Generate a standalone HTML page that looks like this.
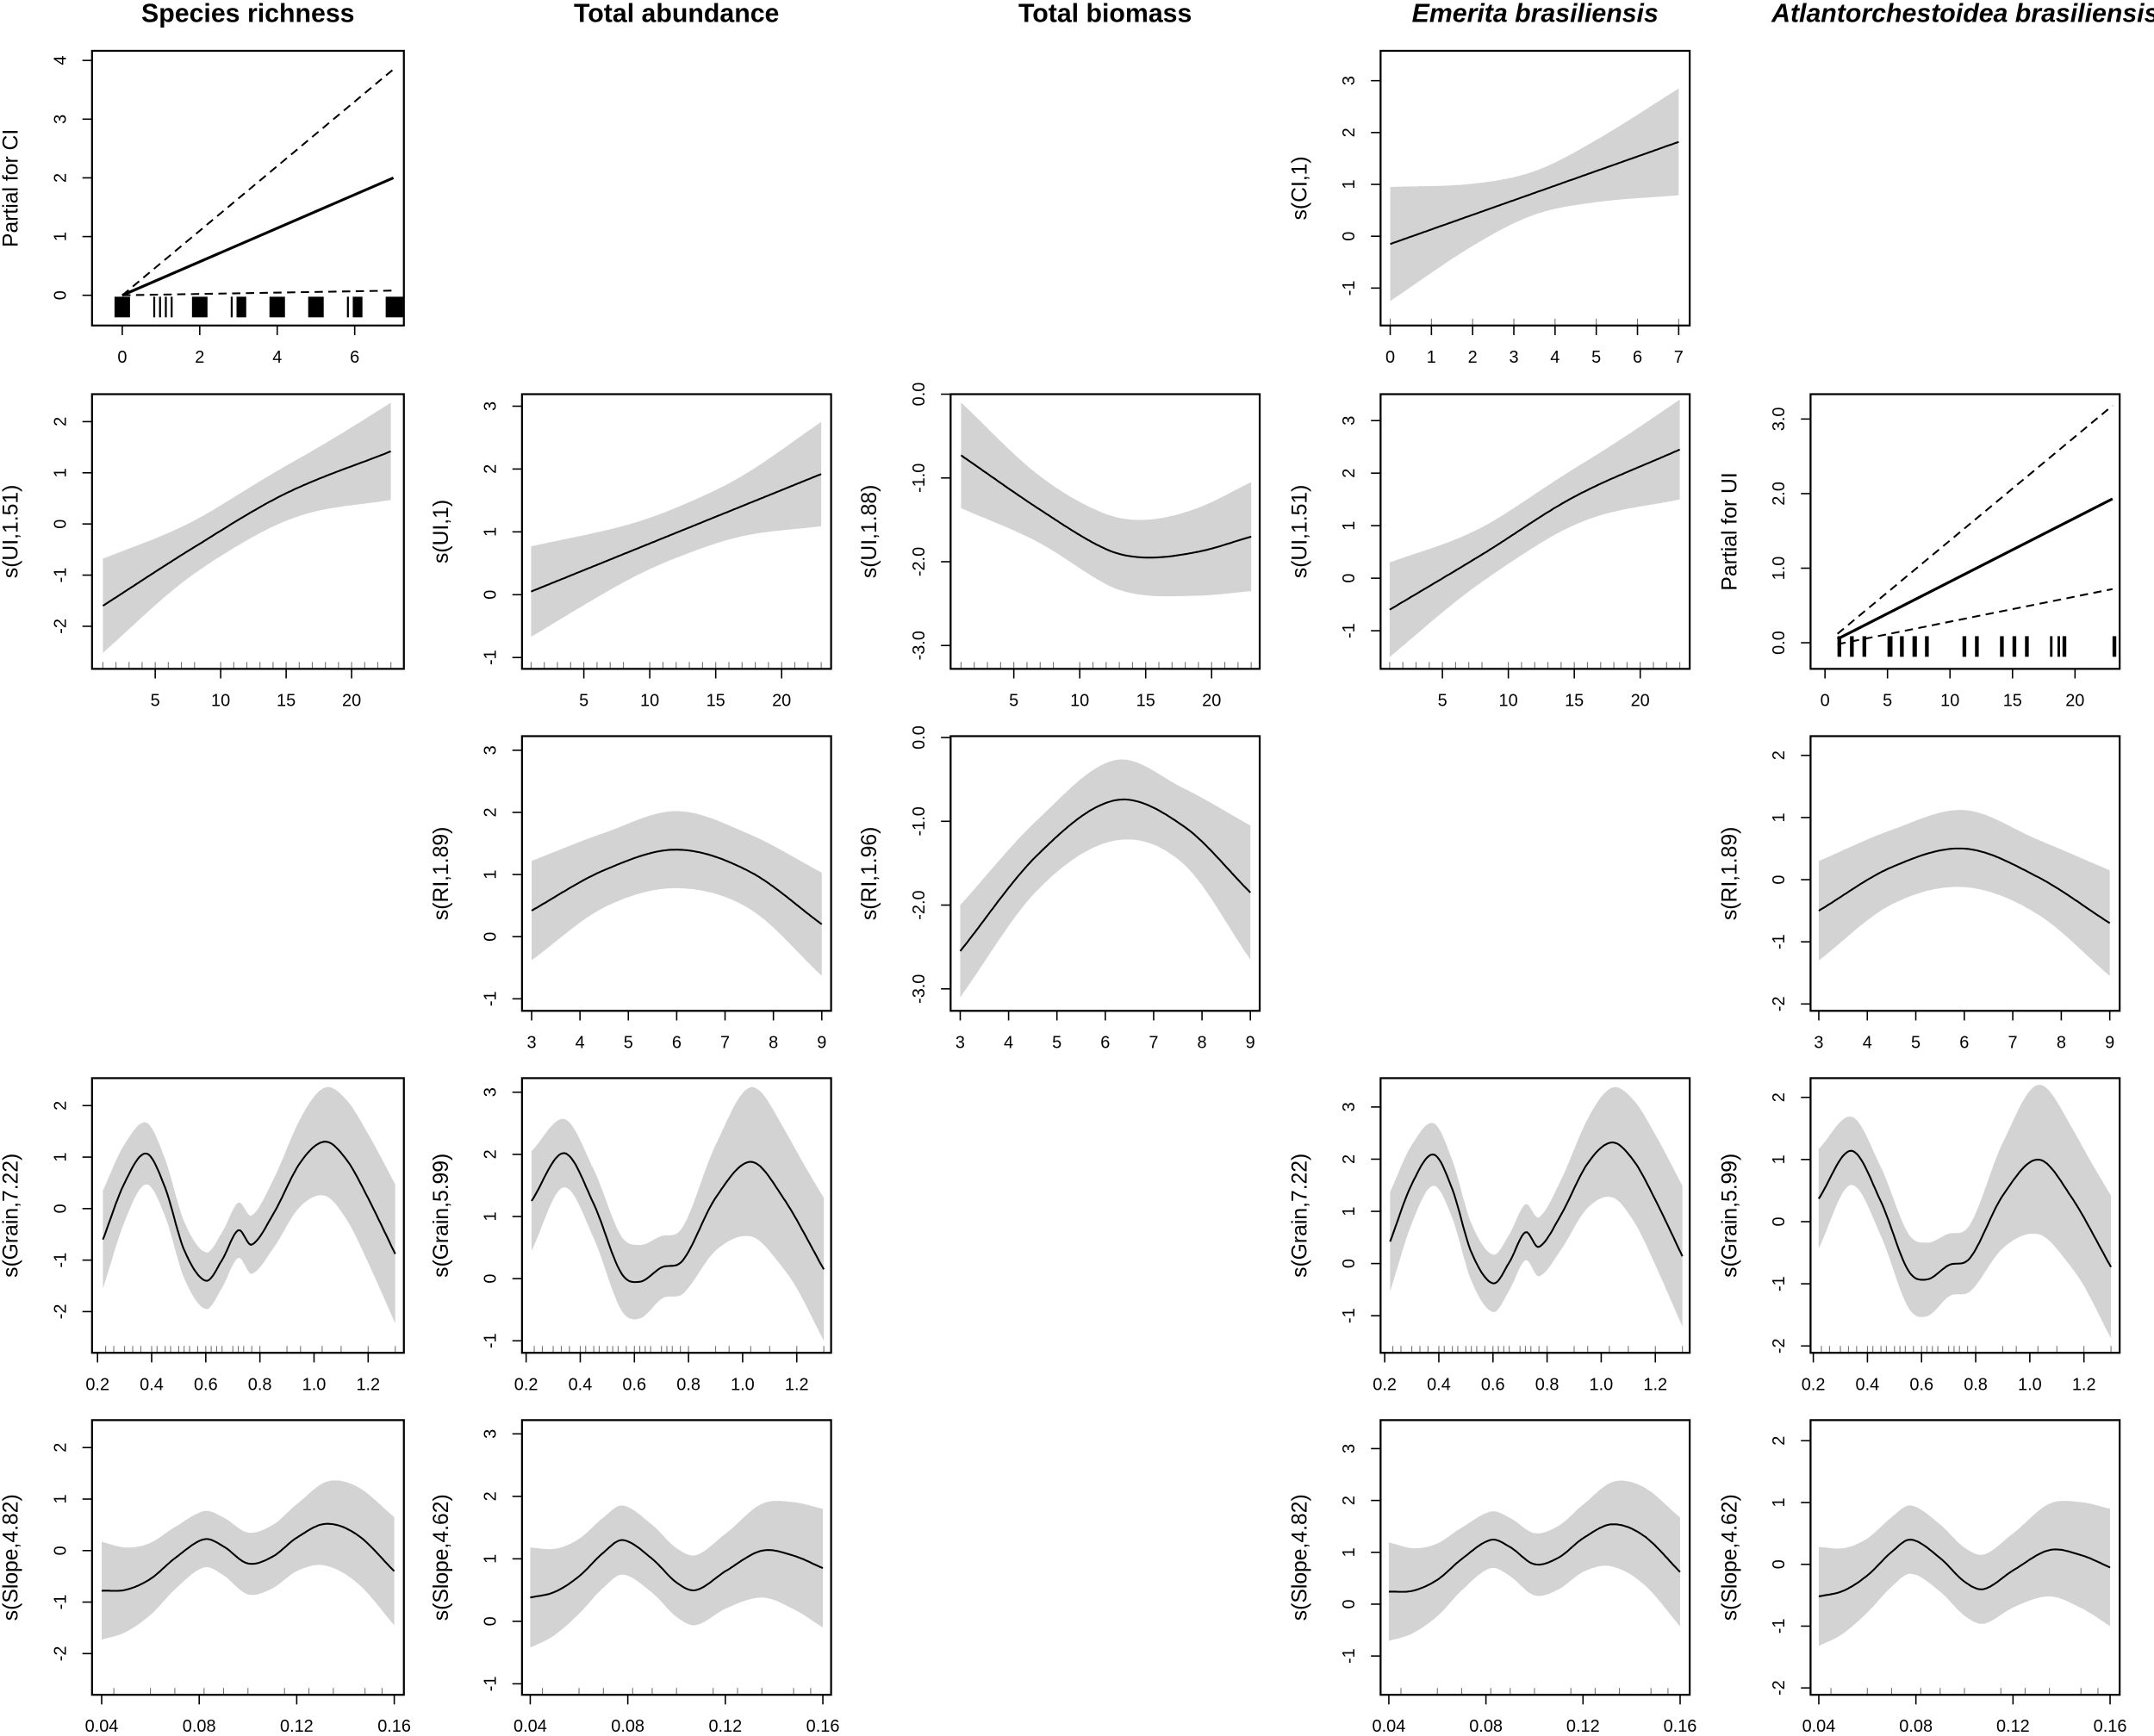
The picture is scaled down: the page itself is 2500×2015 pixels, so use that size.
<!DOCTYPE html>
<html><head><meta charset="utf-8"><style>
html,body{margin:0;padding:0;background:#fff;}
svg{display:block;}
text{font-family:"Liberation Sans",Arial,sans-serif;fill:#000;}
</style></head><body>
<svg id="s" xmlns="http://www.w3.org/2000/svg" width="2500" height="2015" viewBox="0 0 1568 1264" preserveAspectRatio="none"></svg>
<script>
const S=document.getElementById('s');let out='';
const cols=[[67,294],[380,605],[692,917],[1005,1230],[1318,1543]];
const rows=[[37,237],[287,487],[536,736],[785,985],[1034,1234]];
const titles=[["Species richness",0],["Total abundance",0],["Total biomass",0],["Emerita brasiliensis",1],["Atlantorchestoidea brasiliensis",1]];
titles.forEach((t,i)=>{const cx=(cols[i][0]+cols[i][1])/2;out+=`<text x="${cx}" y="16" font-size="19" font-weight="bold" ${t[1]?'font-style="italic"':''} text-anchor="middle">${t[0]}</text>`;});
function interp(pts,x){
  const n=pts.length;if(x<=pts[0][0])return pts[0][1];if(x>=pts[n-1][0])return pts[n-1][1];
  let i=0;while(pts[i+1][0]<x)i++;
  const tg=k=>{if(k==0)return (pts[1][1]-pts[0][1])/(pts[1][0]-pts[0][0]);if(k==n-1)return (pts[n-1][1]-pts[n-2][1])/(pts[n-1][0]-pts[n-2][0]);return (pts[k+1][1]-pts[k-1][1])/(pts[k+1][0]-pts[k-1][0]);};
  const x0=pts[i][0],x1=pts[i+1][0],h=x1-x0,t=(x-x0)/h;
  const h00=2*t*t*t-3*t*t+1,h10=t*t*t-2*t*t+t,h01=-2*t*t*t+3*t*t,h11=t*t*t-t*t;
  return h00*pts[i][1]+h10*h*tg(i)+h01*pts[i+1][1]+h11*h*tg(i+1);}
function panel(p){
  const [L,R]=cols[p.c],[T,B]=rows[p.r];
  const X=v=>p.xa[0]+(v-p.xa[1])*p.xa[2];
  const Y=v=>p.ya[0]-(v-p.ya[1])*p.ya[2];
  if(p.curve){
    const N=160;let up=[],lo=[],ln=[];
    for(let k=0;k<=N;k++){const x=p.xr[0]+(p.xr[1]-p.xr[0])*k/N;const y=interp(p.curve,x),h=interp(p.hw,x);
      up.push(X(x).toFixed(1)+','+Y(y+h).toFixed(1));lo.push(X(x).toFixed(1)+','+Y(y-h).toFixed(1));ln.push(X(x).toFixed(1)+','+Y(y).toFixed(1));}
    out+=`<polygon points="${up.join(' ')} ${lo.reverse().join(' ')}" fill="#d3d3d3"/>`;
    out+=`<polyline points="${ln.join(' ')}" fill="none" stroke="#000" stroke-width="1.3"/>`;
    if(p.rug){p.rug.forEach(v=>{out+=`<line x1="${X(v)}" x2="${X(v)}" y1="${B}" y2="${B-5}" stroke="#777" stroke-width="0.7"/>`;});}
  }
  if(p.lin){
    const [x0,x1]=p.xr;
    p.lin.forEach((l,j)=>{out+=`<line x1="${X(x0)}" y1="${Y(l[0])}" x2="${X(x1)}" y2="${Y(l[1])}" stroke="#000" stroke-width="${j==0?2:1.3}" ${j?'stroke-dasharray="6,4"':''}/>`;});
    p.rugb.forEach(v=>{out+=`<rect x="${X(v[0])}" y="${Y(p.rugy)-7.5}" width="${Math.max(1.2,(v[1]-v[0])*p.xa[2])}" height="15" fill="#000"/>`;});
  }
  out+=`<rect x="${L}" y="${T}" width="${R-L}" height="${B-T}" fill="none" stroke="#000" stroke-width="1.4"/>`;
  p.yt.forEach(v=>{const y=Y(v);out+=`<line x1="${L}" x2="${L-7}" y1="${y}" y2="${y}" stroke="#000" stroke-width="1"/>`;
    const lab=p.yf?v.toFixed(1):String(v);out+=`<text transform="translate(${L-19},${y}) rotate(-90)" font-size="12.5" text-anchor="middle">${lab}</text>`;});
  out+=`<line x1="${L}" x2="${L}" y1="${Y(p.yt[0])}" y2="${Y(p.yt[p.yt.length-1])}" stroke="#000"/>`;
  p.xt.forEach(v=>{const x=X(v);out+=`<line x1="${x}" x2="${x}" y1="${B}" y2="${B+7}" stroke="#000" stroke-width="1"/>`;
    out+=`<text x="${x}" y="${B+27}" font-size="12.5" text-anchor="middle">${p.xl?p.xl(v):v}</text>`;});
  out+=`<line x1="${X(p.xt[0])}" x2="${X(p.xt[p.xt.length-1])}" y1="${B}" y2="${B}" stroke="#000"/>`;
  out+=`<text transform="translate(${L-54},${(T+B)/2}) rotate(-90)" font-size="15.5" text-anchor="middle">${p.yl}</text>`;
}
const uiR=[1,2,3,4,5,6,7,8,10,11,12,13,14,15,16,17,18,19,20,21,22,23];
const grR=[0.23,0.26,0.3,0.33,0.36,0.4,0.42,0.45,0.47,0.5,0.52,0.54,0.57,0.6,0.62,0.64,0.66,0.7,0.72,0.74,0.77,0.8,0.9,0.95,1.03,1.1,1.2,1.3];
const slR=[0.045,0.06,0.07,0.082,0.09,0.1,0.115,0.125,0.135,0.148,0.155];
const grT=[0.2,0.4,0.6,0.8,1.0,1.2],slT=[0.04,0.08,0.12,0.16];
const fx2=v=>v.toFixed(2),fx1=v=>v.toFixed(1);
panel({c:0,r:0,xa:[89,0,28.2],ya:[215,0,42.75],xr:[0,7],yt:[0,1,2,3,4],xt:[0,2,4,6],yl:"Partial for CI",
 lin:[[0,2],[0,3.85],[0,0.08]],rugy:-0.2,
 rugb:[[-0.2,0.2],[0.8,0.85],[0.95,1.0],[1.1,1.15],[1.25,1.3],[1.8,2.2],[2.8,2.85],[2.95,3.2],[3.8,4.2],[4.8,5.2],[5.8,5.85],[5.95,6.2],[6.8,7.25]]});
panel({c:3,r:0,xa:[1012,0,30],ya:[172,0,37.75],xr:[0,7],yt:[-1,0,1,2,3],xt:[0,1,2,3,4,5,6,7],yl:"s(CI,1)",
 curve:[[0,-0.15],[7,1.82]],hw:[[0,1.1],[2,0.6],[3.5,0.42],[5,0.6],[7,1.03]],rug:[0,1,2,3,4,5,6,7]});
panel({c:0,r:1,xa:[113,5,9.53],ya:[381.5,0,37.25],xr:[1,23],yt:[-2,-1,0,1,2],xt:[5,10,15,20],yl:"s(UI,1.51)",
 curve:[[1,-1.6],[8,-0.45],[15,0.6],[23,1.42]],hw:[[1,0.92],[7,0.55],[12,0.5],[17,0.6],[23,0.95]],rug:uiR});
panel({c:1,r:1,xa:[425,5,9.6],ya:[433,0,45.75],xr:[1,23],yt:[-1,0,1,2,3],xt:[5,10,15,20],yl:"s(UI,1)",
 curve:[[1,0.05],[23,1.92]],hw:[[1,0.72],[8,0.45],[12,0.4],[17,0.48],[23,0.83]],rug:uiR});
panel({c:2,r:1,xa:[738,5,9.6],ya:[287,0,61],xr:[1,23],yt:[-3,-2,-1,0],yf:1,xt:[5,10,15,20],yl:"s(UI,1.88)",
 curve:[[1,-0.73],[7,-1.38],[12,-1.85],[15,-1.95],[19,-1.88],[23,-1.7]],hw:[[1,0.63],[7,0.4],[13,0.43],[18,0.5],[23,0.65]],rug:uiR});
panel({c:3,r:1,xa:[1050,5,9.6],ya:[421,0,38.25],xr:[1,23],yt:[-1,0,1,2,3],xt:[5,10,15,20],yl:"s(UI,1.51)",
 curve:[[1,-0.6],[8,0.45],[15,1.55],[23,2.45]],hw:[[1,0.9],[7,0.55],[12,0.5],[17,0.6],[23,0.95]],rug:uiR});
panel({c:4,r:1,xa:[1374,5,9.1],ya:[468,0,54.3],xr:[1,23],yt:[0,1,2,3],yf:1,xt:[0,5,10,15,20],yl:"Partial for UI",
 lin:[[0.05,1.93],[0.12,3.18],[-0.02,0.72]],rugy:-0.05,
 rugb:[[1,1.3],[2,2.3],[3,3.3],[5,5.4],[6,6.3],[7,7.35],[8,8.3],[11,11.3],[12,12.3],[14,14.3],[15,15.3],[16,16.3],[18,18.2],[18.6,18.8],[19,19.3],[23,23.3]]});
panel({c:1,r:2,xa:[387,3,35.2],ya:[682,0,45.25],xr:[3,9],yt:[-1,0,1,2,3],xt:[3,4,5,6,7,8,9],yl:"s(RI,1.89)",
 curve:[[3,0.42],[4.5,1.07],[6,1.4],[7.5,1.05],[9,0.2]],hw:[[3,0.8],[4.5,0.6],[6,0.62],[7.5,0.6],[9,0.83]]});
panel({c:2,r:2,xa:[699,3,35.2],ya:[537,0,61],xr:[3,9],yt:[-3,-2,-1,0],yf:1,xt:[3,4,5,6,7,8,9],yl:"s(RI,1.96)",
 curve:[[3,-2.55],[4.6,-1.4],[6.2,-0.75],[7.6,-1.05],[9,-1.85]],hw:[[3,0.55],[4.6,0.42],[6.2,0.48],[7.6,0.45],[9,0.8]]});
panel({c:4,r:2,xa:[1324,3,35.3],ya:[640.5,0,45.25],xr:[3,9],yt:[-2,-1,0,1,2],xt:[3,4,5,6,7,8,9],yl:"s(RI,1.89)",
 curve:[[3,-0.5],[4.5,0.2],[6,0.5],[7.5,0.05],[9,-0.7]],hw:[[3,0.8],[4.5,0.6],[6,0.62],[7.5,0.6],[9,0.85]]});
const g1=[[0.22,-0.6],[0.3,0.5],[0.38,1.07],[0.45,0.4],[0.52,-0.8],[0.6,-1.4],[0.66,-1.0],[0.72,-0.42],[0.77,-0.7],[0.85,-0.1],[0.95,0.9],[1.04,1.3],[1.12,0.95],[1.2,0.2],[1.3,-0.88]];
const gh1=[[0.22,0.95],[0.38,0.6],[0.6,0.55],[0.75,0.55],[0.9,0.75],[1.04,1.05],[1.2,1.25],[1.3,1.35]];
panel({c:0,r:3,xa:[71,0.2,197],ya:[880,0,37.5],xr:[0.22,1.3],yt:[-2,-1,0,1,2],xt:grT,xl:fx1,yl:"s(Grain,7.22)",curve:g1,hw:gh1,rug:grR});
const g2=[[0.22,1.25],[0.34,2.02],[0.45,1.2],[0.55,0.1],[0.62,-0.05],[0.7,0.18],[0.78,0.3],[0.9,1.3],[1.03,1.88],[1.15,1.3],[1.3,0.15]];
const gh2=[[0.22,0.8],[0.34,0.55],[0.6,0.6],[0.75,0.5],[0.9,0.85],[1.03,1.2],[1.2,1.1],[1.3,1.15]];
panel({c:1,r:3,xa:[383,0.2,197],ya:[931,0,45.25],xr:[0.22,1.3],yt:[-1,0,1,2,3],xt:grT,xl:fx1,yl:"s(Grain,5.99)",curve:g2,hw:gh2,rug:grR});
panel({c:3,r:3,xa:[1008,0.2,197],ya:[920,0,38],xr:[0.22,1.3],yt:[-1,0,1,2,3],xt:grT,xl:fx1,yl:"s(Grain,7.22)",curve:g1.map(q=>[q[0],q[1]+1.02]),hw:gh1,rug:grR});
panel({c:4,r:3,xa:[1320,0.2,197],ya:[889.5,0,45.25],xr:[0.22,1.3],yt:[-2,-1,0,1,2],xt:grT,xl:fx1,yl:"s(Grain,5.99)",curve:g2.map(q=>[q[0],q[1]-0.88]),hw:gh2,rug:grR});
const s1=[[0.04,-0.78],[0.05,-0.76],[0.06,-0.55],[0.07,-0.15],[0.082,0.22],[0.09,0.08],[0.1,-0.25],[0.11,-0.12],[0.12,0.25],[0.132,0.52],[0.145,0.3],[0.16,-0.4]];
const sh1=[[0.04,0.95],[0.06,0.7],[0.08,0.55],[0.1,0.6],[0.12,0.65],[0.135,0.85],[0.16,1.05]];
panel({c:0,r:4,xa:[74,0.04,1775],ya:[1129,0,37.5],xr:[0.04,0.16],yt:[-2,-1,0,1,2],xt:slT,xl:fx2,yl:"s(Slope,4.82)",curve:s1,hw:sh1,rug:slR});
const s2=[[0.04,0.38],[0.05,0.47],[0.06,0.72],[0.07,1.1],[0.078,1.3],[0.09,1.0],[0.1,0.62],[0.108,0.5],[0.12,0.8],[0.135,1.13],[0.148,1.05],[0.16,0.85]];
const sh2=[[0.04,0.8],[0.06,0.6],[0.08,0.55],[0.1,0.55],[0.12,0.6],[0.135,0.75],[0.16,0.95]];
panel({c:1,r:4,xa:[386,0.04,1775],ya:[1180.5,0,45.5],xr:[0.04,0.16],yt:[-1,0,1,2,3],xt:slT,xl:fx2,yl:"s(Slope,4.62)",curve:s2,hw:sh2,rug:slR});
panel({c:3,r:4,xa:[1011,0.04,1767],ya:[1168,0,37.75],xr:[0.04,0.16],yt:[-1,0,1,2,3],xt:slT,xl:fx2,yl:"s(Slope,4.82)",curve:s1.map(q=>[q[0],q[1]+1.02]),hw:sh1,rug:slR});
panel({c:4,r:4,xa:[1324,0.04,1767],ya:[1139,0,45],xr:[0.04,0.16],yt:[-2,-1,0,1,2],xt:slT,xl:fx2,yl:"s(Slope,4.62)",curve:s2.map(q=>[q[0],q[1]-0.9]),hw:sh2,rug:slR});
S.innerHTML=out;
</script>
</body></html>
